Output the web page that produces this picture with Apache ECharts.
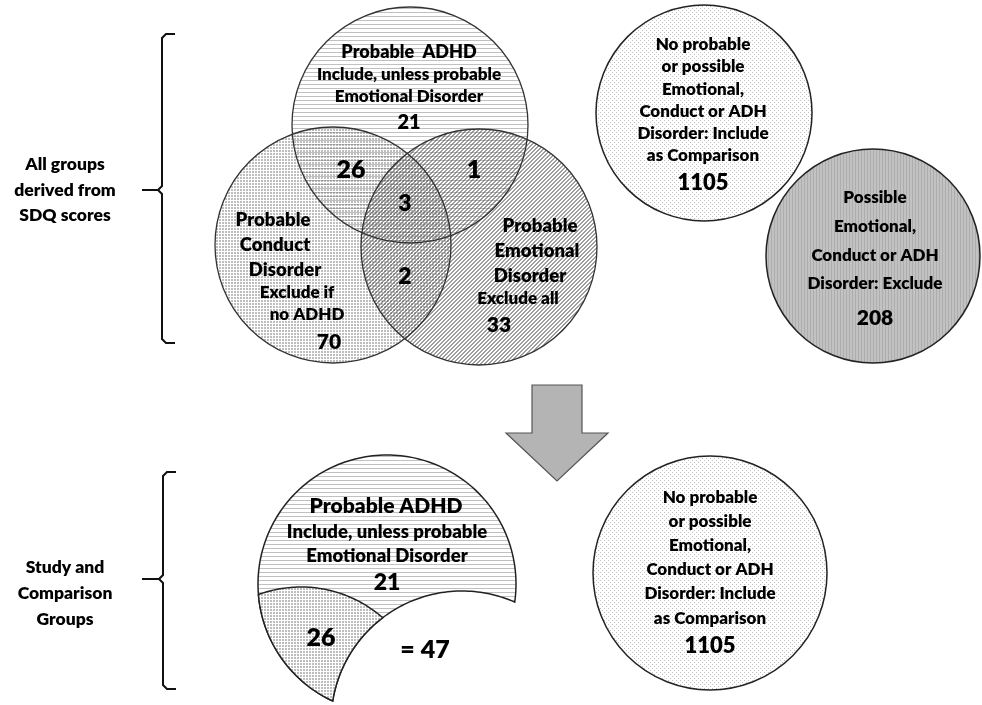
<!DOCTYPE html>
<html><head><meta charset="utf-8">
<script src="https://cdn.jsdelivr.net/npm/echarts@6/dist/echarts.min.js"></script>
<style>html,body{margin:0;padding:0;background:#fff}#c{width:982px;height:705px}</style>
</head><body><div id="c"></div>
<script>
// ---------------- data ----------------
const vennRegions = ['ADHD only','ADHD + Conduct','ADHD + Emotional','ADHD + Conduct + Emotional','Conduct + Emotional','Conduct only','Emotional only'];
const vennCounts = [21, 26, 1, 3, 2, 70, 33];
const otherGroups = ['No probable or possible disorder (comparison)','Possible disorder (excluded)'];
const otherCounts = [1105, 208];
const studyRegions = ['ADHD only','ADHD + Conduct'];
const studyCounts = [21, 26];
const studyTotal = [47];
const comparisonCount = [1105];
// text labels
const adhdLabel = ['Probable  ADHD','Include, unless probable','Emotional Disorder'];
const adhdLabel2 = ['Probable ADHD','Include, unless probable','Emotional Disorder'];
const conductLabel = ['Probable','Conduct','Disorder','Exclude if','no ADHD'];
const emotionalLabel = ['Probable','Emotional','Disorder','Exclude all'];
const comparisonLabel = ['No probable','or possible','Emotional,','Conduct or ADH','Disorder: Include','as Comparison'];
const possibleLabel = ['Possible','Emotional,','Conduct or ADH','Disorder: Exclude'];
const sideLabels = [['All groups','derived from','SDQ scores'],['Study and','Comparison','Groups']];

// ---------------- layout / style ----------------
const FF = 'Lato, "Open Sans", sans-serif';
function tile(w,h,draw){const c=document.createElement('canvas');c.width=w;c.height=h;const g=c.getContext('2d');draw(g);return {image:c,repeat:'repeat'};}
const patH = tile(4,4,g=>{g.fillStyle='rgba(140,140,140,0.55)';g.fillRect(0,0,4,1);});
const patDots = tile(3,3,g=>{g.fillStyle='rgba(100,100,100,0.42)';g.fillRect(0,0,2,2);});
const patDiag = tile(4,4,g=>{g.fillStyle='rgba(70,70,70,0.52)';for(let i=0;i<4;i++){g.fillRect(i,3-i,1,1);g.fillRect(i,(4-i)%4,1,1);}});
const patFine = tile(4,4,g=>{g.fillStyle='rgba(130,130,130,0.5)';g.fillRect(0,0,1,1);g.fillRect(2,2,1,1);});
const patVert = tile(3,1,g=>{g.fillStyle='rgba(90,90,90,0.2)';g.fillRect(0,0,1,1);});

const A = {x:410,y:125,r:118}, C = {x:333,y:245,r:118}, E = {x:479,y:247,r:118};
const CMP = {x:704,y:113,r:108}, POS = {x:873,y:256,r:107}, CMP2 = {x:710,y:573,r:117};
const A2 = {x:387,y:584,r:129}, C2 = {x:301,y:711,r:124}, E2 = {x:462,y:722,r:131};

function inter(c1,c2){
  const dx=c2.x-c1.x, dy=c2.y-c1.y, d=Math.hypot(dx,dy);
  const a=(c1.r*c1.r-c2.r*c2.r+d*d)/(2*d), h=Math.sqrt(Math.max(0,c1.r*c1.r-a*a));
  const mx=c1.x+a*dx/d, my=c1.y+a*dy/d;
  return [[mx+h*dy/d,my-h*dx/d],[mx-h*dy/d,my+h*dx/d]];
}
function ang(c,p){return Math.atan2(p[1]-c.y,p[0]-c.x);}
function arc(c,p0,p1,dir,n){
  let a0=ang(c,p0), a1=ang(c,p1);
  if(dir>0){while(a1<=a0)a1+=2*Math.PI;}else{while(a1>=a0)a1-=2*Math.PI;}
  const pts=[];for(let i=0;i<=n;i++){const t=a0+(a1-a0)*i/n;pts.push([c.x+c.r*Math.cos(t),c.y+c.r*Math.sin(t)]);}
  return pts;
}
const ae = inter(A2,E2).sort((p,q)=>q[0]-p[0]); const P1=ae[0], P2=ae[1];
const ac = inter(A2,C2).sort((p,q)=>p[0]-q[0]); const Q1=ac[0];
const ce = inter(C2,E2).sort((p,q)=>p[1]-q[1]); const Q2=ce[0];
const adhdPoly = arc(A2,P1,P2,-1,160).concat(arc(E2,P2,P1,1,80));
const condPoly = arc(C2,Q1,Q2,1,60).concat(arc(E2,Q2,P2,-1,40)).concat(arc(A2,P2,Q1,1,40));

const g = [];
function circ(c,fill,stroke,lw){g.push({type:'circle',shape:{cx:c.x,cy:c.y,r:c.r},style:{fill:fill||'none',stroke:stroke||'none',lineWidth:lw||0},silent:true});}
function txt(s,x,y,size){g.push({type:'text',x:x,y:y,silent:true,style:{text:String(s),font:'800 '+size+'px '+FF,fill:'#000',align:'center',verticalAlign:'middle',textAlign:'center',textVerticalAlign:'middle'}});}
function lines(arr,x,ys,size){arr.forEach((s,i)=>txt(s,Array.isArray(x)?x[i]:x,ys[i],Array.isArray(size)?size[i]:size));}

// top venn
[A,C,E].forEach(c=>circ(c,'#fff'));
circ(A,patH); circ(C,patDots); circ(E,patDiag);
[A,C,E].forEach(c=>circ(c,null,'#333',1.3));
// other groups
circ(CMP,'#fff'); circ(CMP,patFine,'#222',1.5);
circ(POS,'#c2c2c2'); circ(POS,patVert,'#222',1.5);
circ(CMP2,'#fff'); circ(CMP2,patFine,'#222',1.5);

// bottom study group
g.push({type:'polygon',shape:{points:adhdPoly},style:{fill:'#fff'},silent:true});
g.push({type:'polygon',shape:{points:adhdPoly},style:{fill:patH,stroke:'#222',lineWidth:1.5},silent:true});
g.push({type:'polygon',shape:{points:condPoly},style:{fill:'#fff'},silent:true});
g.push({type:'polygon',shape:{points:condPoly},style:{fill:patDots,stroke:'#222',lineWidth:1.5},silent:true});

// arrow
g.push({type:'polygon',shape:{points:[[532,385],[582,385],[582,433],[608,433],[557,481],[506,433],[532,433]]},style:{fill:'#b4b4b4',stroke:'#555',lineWidth:1.2},silent:true});

// brackets
function bracket(x,y0,y1,ym,xl){
  g.push({type:'polyline',shape:{points:[[x+13,y0],[x+4,y0],[x,y0+4],[x,ym-4],[x-4,ym],[xl,ym]]},style:{stroke:'#111',lineWidth:2,fill:'none'},silent:true});
  g.push({type:'polyline',shape:{points:[[x-4,ym],[x,ym+4],[x,y1-4],[x+4,y1],[x+13,y1]]},style:{stroke:'#111',lineWidth:2,fill:'none'},silent:true});
}
bracket(162,34,343,190,142);
bracket(163,472,689,579,142);

// texts: top venn
lines(adhdLabel,409,[52,75,97],[18,17,17]);
txt(vennCounts[0],409,123,20);
txt(vennCounts[1],351,170,25);
txt(vennCounts[2],474,170,25);
txt(vennCounts[3],405,204,23);
txt(vennCounts[4],405,277,23);
lines(conductLabel,[273,275,285,297,307],[220,245,270,293,315],[18.5,18.5,18.5,17,17]);
txt(vennCounts[5],329,342,21);
lines(emotionalLabel,[540,537,530,518],[226,251,276,299],[18.5,18.5,18.5,17]);
txt(vennCounts[6],499,325,21);
// other groups text
lines(comparisonLabel,703,[45,67,90,112,134,156],17);
txt(otherCounts[0],703,183,22);
lines(possibleLabel,875,[198,227,256,284],17);
txt(otherCounts[1],875,318,21);
lines(comparisonLabel,710,[498,522,546,570,594,619],17);
txt(comparisonCount[0],710,646,22);
// bottom texts
txt(adhdLabel2[0],386,506,21);
lines(adhdLabel2.slice(1),387,[532,556],18.5);
txt(studyCounts[0],387,583,23);
txt(studyCounts[1],321,638,25);
txt('= '+studyTotal[0],425,650,25);
// side labels
lines(sideLabels[0],65,[164,190,215],17.5);
lines(sideLabels[1],65,[567,593,619],17.5);

const chart = echarts.init(document.getElementById('c'),null,{renderer:'canvas'});
chart.setOption({animation:false,backgroundColor:'#fff',graphic:{elements:g}});
</script></body></html>
